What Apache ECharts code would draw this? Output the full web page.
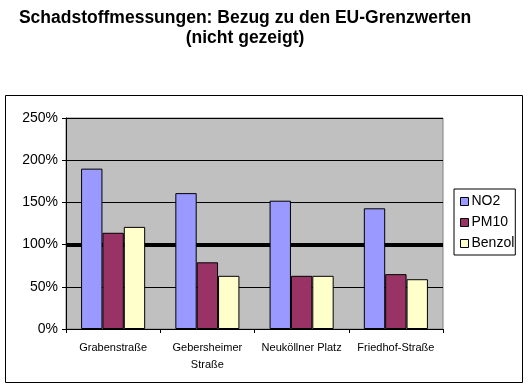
<!DOCTYPE html>
<html><head><meta charset="utf-8">
<script src="https://cdn.jsdelivr.net/npm/echarts@6/dist/echarts.min.js"></script>
<style>html,body{margin:0;padding:0;background:#fff}#c{width:529px;height:387px}</style>
</head><body><div id="c"></div>
<script>
const categories = ['Grabenstraße', 'Gebersheimer\nStraße', 'Neuköllner Platz', 'Friedhof-Straße'];
const no2 = [190, 161, 152, 143];
const pm10 = [114, 79, 63, 65];
const benzol = [121, 63, 63, 59];
const limit = 100;
const yTicks = [0, 50, 100, 150, 200, 250];

const chart = echarts.init(document.getElementById('c'), null, {renderer: 'canvas'});
const font = 'Arial, "Liberation Sans", sans-serif';
const barStyle = c => ({color: c, borderColor: '#000', borderWidth: 1});
const clear = 'rgba(0,0,0,0)';
chart.setOption({
  animation: false,
  title: {
    text: 'Schadstoffmessungen: Bezug zu den EU-Grenzwerten\n(nicht gezeigt)',
    left: 240, top: 3, textAlign: 'center',
    textStyle: {fontFamily: font, fontSize: 17.5, fontWeight: 'bold', color: '#000', lineHeight: 20}
  },
  graphic: [{type: 'rect', shape: {x: 5.5, y: 95.5, width: 517, height: 287}, style: {fill: null, stroke: '#000', lineWidth: 1}, z: 0}],
  legend: {
    data: ['NO2', 'PM10', 'Benzol'],
    orient: 'vertical', left: 454, top: 189,
    width: 65,
    padding: [5, 1, 4, 6],
    itemGap: 6, itemWidth: 8, itemHeight: 8,
    icon: 'rect',
    borderColor: '#000', borderWidth: 1,
    textStyle: {fontFamily: font, fontSize: 14, color: '#000', lineHeight: 15, padding: [0, 0, 0, -2]},
    itemStyle: {borderColor: '#000', borderWidth: 1}
  },
  grid: {left: 66, top: 118, width: 377, height: 211, show: true, backgroundColor: '#C0C0C0', borderColor: '#808080', borderWidth: 1, containLabel: false},
  xAxis: {
    type: 'category', data: categories,
    axisLine: {lineStyle: {color: '#000', width: 1}},
    axisTick: {show: true, length: 4, lineStyle: {color: '#000'}},
    axisLabel: {fontFamily: font, fontSize: 11, color: '#000', margin: 10, lineHeight: 17, interval: 0}
  },
  yAxis: [{
    type: 'value', min: 0, max: 250, interval: 50,
    axisLine: {show: true, lineStyle: {color: '#000', width: 1}},
    axisTick: {show: true, length: 4, lineStyle: {color: '#000'}},
    axisLabel: {fontFamily: font, fontSize: 14, color: '#000', margin: 8, formatter: v => v + '%'},
    splitLine: {lineStyle: {color: '#000', width: 1}}
  }, {
    type: 'value', min: 0, max: 250, interval: limit, position: 'left',
    axisLine: {show: false}, axisTick: {show: false}, axisLabel: {show: false},
    splitLine: {show: true, lineStyle: {color: [clear, '#000', clear, clear], width: 4}}
  }],
  series: [
    {name: 'NO2', type: 'bar', data: no2, itemStyle: barStyle('#9999FF'), barGap: '0%', barCategoryGap: '32%'},
    {name: 'PM10', type: 'bar', data: pm10, itemStyle: barStyle('#993366')},
    {name: 'Benzol', type: 'bar', data: benzol, itemStyle: barStyle('#FFFFCC')}
  ]
});
</script></body></html>
